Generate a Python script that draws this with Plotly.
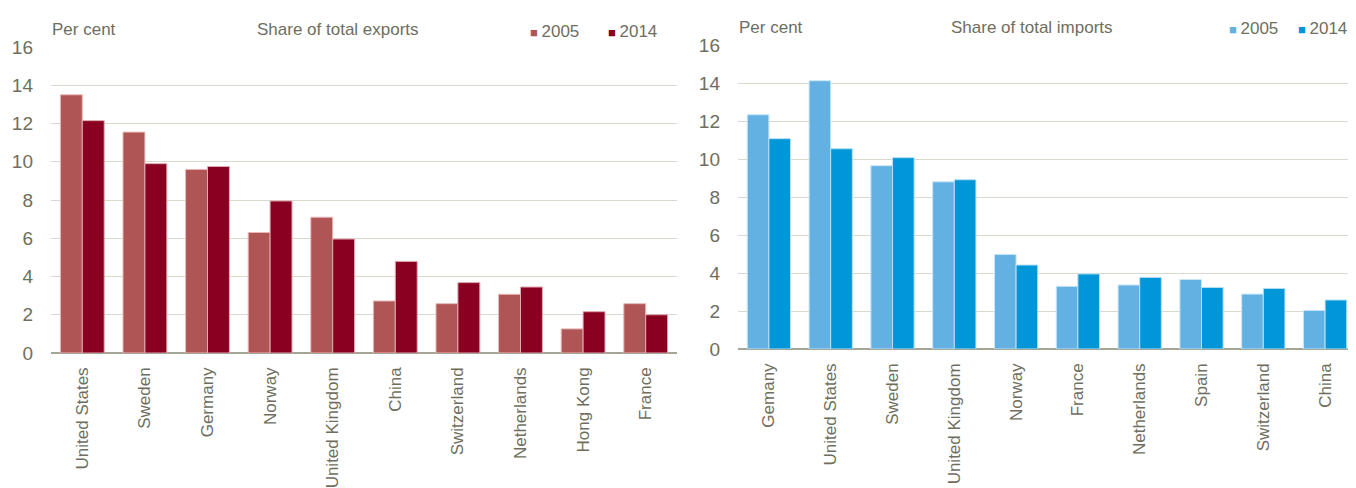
import plotly.graph_objects as go

exp_countries = ["United States", "Sweden", "Germany", "Norway", "United Kingdom",
                 "China", "Switzerland", "Netherlands", "Hong Kong", "France"]
exp_2005 = [13.5, 11.55, 9.6, 6.3, 7.1, 2.72, 2.58, 3.07, 1.26, 2.58]
exp_2014 = [12.15, 9.9, 9.75, 7.95, 5.96, 4.79, 3.68, 3.45, 2.16, 2.0]

imp_countries = ["Gemany", "United States", "Sweden", "United Kingdom", "Norway",
                 "France", "Netherlands", "Spain", "Switzerland", "China"]
imp_2005 = [12.33, 14.12, 9.65, 8.8, 4.98, 3.3, 3.37, 3.66, 2.89, 2.03]
imp_2014 = [11.07, 10.54, 10.07, 8.91, 4.42, 3.95, 3.77, 3.24, 3.19, 2.58]

y_ticks = [0, 2, 4, 6, 8, 10, 12, 14, 16]

FONT = "Liberation Sans, Arial, sans-serif"
TXT = "#6E6E60"
GRID = "#D9D9D0"
AXIS = "#A5A597"

C_E05, C_E14 = "#B05555", "#8A0021"
C_I05, C_I14 = "#63B1E3", "#0096D8"

# page body has an 8px margin; figure drawn in a shifted frame
OFF = 8
W, H = 1356 - OFF, 488 - OFF

def px(x):
    return (x - OFF) / W

def py(y):
    return (H - (y - OFF)) / H

fig = go.Figure()
fig.add_trace(go.Bar(x=exp_countries, y=exp_2005, name="2005", marker_color=C_E05,
                     marker_line=dict(color="#E8B8B8", width=1), xaxis="x", yaxis="y"))
fig.add_trace(go.Bar(x=exp_countries, y=exp_2014, name="2014", marker_color=C_E14,
                     marker_line=dict(color="#E0A8B0", width=1), xaxis="x", yaxis="y"))
fig.add_trace(go.Bar(x=imp_countries, y=imp_2005, name="2005", marker_color=C_I05,
                     marker_line=dict(color="#C8E6F8", width=1), xaxis="x2", yaxis="y2"))
fig.add_trace(go.Bar(x=imp_countries, y=imp_2014, name="2014", marker_color=C_I14,
                     marker_line=dict(color="#B8E0F5", width=1), xaxis="x2", yaxis="y2"))

def xa(domain, anchor):
    return dict(domain=domain, anchor=anchor, tickangle=-90, showgrid=False,
                showline=False, ticks="", ticklabelstandoff=10, automargin=False,
                tickfont=dict(family=FONT, size=17, color=TXT))

def ya(domain, anchor):
    return dict(domain=domain, anchor=anchor, range=[0, 16], tickvals=y_ticks,
                showgrid=True, gridcolor=GRID, gridwidth=1.3, zeroline=True,
                zerolinecolor=AXIS, zerolinewidth=1.5, showline=False, ticks="",
                ticklabelstandoff=17, automargin=False,
                tickfont=dict(family=FONT, size=19, color=TXT))

fig.update_layout(
    width=W, height=H, margin=dict(l=0, r=0, t=0, b=0, pad=0, autoexpand=False),
    paper_bgcolor="white", plot_bgcolor="white",
    barmode="group", bargap=0.3, bargroupgap=0.0,
    showlegend=False,
    xaxis=xa([px(51), px(677)], "y"), yaxis=ya([py(353), py(47)], "x"),
    xaxis2=xa([px(738), 1.0], "y2"), yaxis2=ya([py(349), py(45)], "x2"),
)

def ann(x, y, text, xanchor="left", size=17):
    fig.add_annotation(x=px(x), y=py(y), xref="paper", yref="paper",
                       text=text, showarrow=False, xanchor=xanchor, yanchor="middle",
                       font=dict(family=FONT, size=size, color=TXT))

def legend_item(x, y, color, label):
    ann(x, y, f"<span style='color:{color};font-size:13px'>■ </span>{label}")

ann(50, 30, "Per cent")
ann(338, 30, "Share of total exports", xanchor="center")
legend_item(528, 31, C_E05, "2005")
legend_item(606, 31, C_E14, "2014")

ann(737, 28, "Per cent")
ann(1032, 28, "Share of total imports", xanchor="center")
legend_item(1227, 29, C_I05, "2005")
legend_item(1296, 29, C_I14, "2014")

fig.write_html("out.html")
